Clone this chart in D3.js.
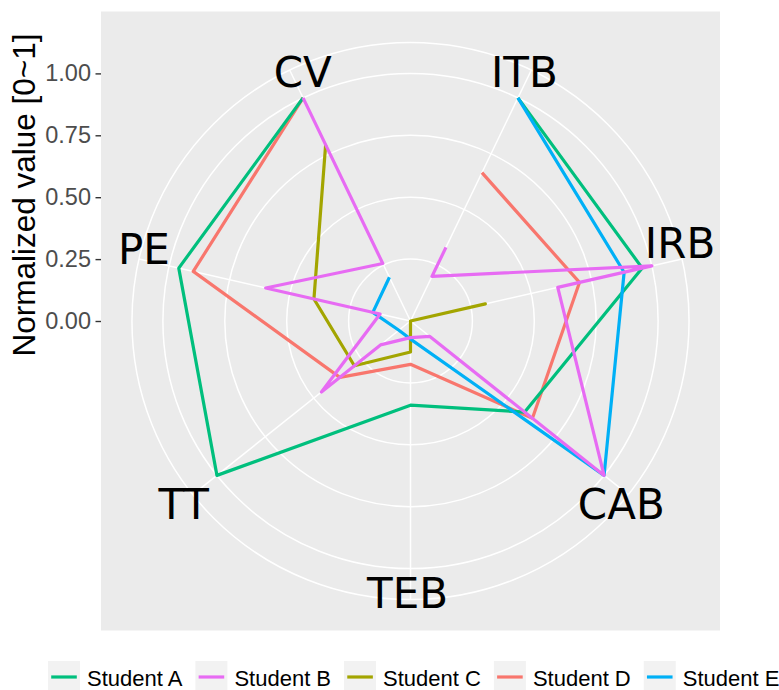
<!DOCTYPE html>
<html><head><meta charset="utf-8">
<script src="https://cdn.jsdelivr.net/npm/d3@7"></script>
<style>body{margin:0;background:#fff} svg{display:block}</style>
</head><body><svg id="c" width="779" height="690"></svg>
<script>
// ---------- data ----------
const categories = ["ITB","IRB","CAB","TEB","TT","PE","CV"];
const students = ["Student A","Student B","Student C","Student D","Student E"];
const studentA = [1.00, 0.96, 0.59, 0.34, 1.00, 0.96, 1.00];
// Student B has two readings per axis, kept in path order
const studentBCats = ["ITB","ITB","IRB","IRB","CAB","CAB","TEB","TT","TT","PE","PE","CV","CV"];
const studentBVals = [0.33, 0.20, 1.00, 0.61, 1.00, 0.10, 0.067, 0.155, 0.46, 0.126, 0.60, 0.258, 1.00];
const studentC = [0.00, 0.31, 0.00, 0.125, 0.29, 0.40, 0.79];
const studentD = [0.665, 0.70, 0.63, 0.175, 0.365, 0.90, 1.00];
const studentE = [1.00, 0.885, 1.00, 0.073, 0.06, 0.156, 0.196];
const rTicks = [0, 0.25, 0.5, 0.75, 1.0];
const rTickLabels = ["0.00","0.25","0.50","0.75","1.00"];
const seriesColors = ["#00BF7D","#E76BF3","#A3A500","#F8766D","#00B0F6"];
const drawOrder = ["Student D","Student C","Student A","Student E","Student B"];

// ---------- layout ----------
const W = 779, H = 690;
const D = 619, cx = 410.5, cy = 321;
const R = 0.4 * D, ROuter = 0.45 * D;
// label nudges (layout only)
const labelNudge = {ITB:[-7,2], IRB:[-2,-16], CAB:[-7,9], TEB:[-3,-7], TT:[-9,9], PE:[5,-10.5], CV:[13,2]};

const svg = d3.select("#c");
const color = d3.scaleOrdinal().domain(students).range(seriesColors);
const theta = d3.scaleBand().domain(categories).range([0, 2*Math.PI]).paddingInner(0).paddingOuter(0);
const ang = c => theta(c) + theta.bandwidth()/2;
const rScale = d3.scaleLinear().domain([0,1]).range([0, R]);

// panel
svg.append("rect").attr("x", cx - D/2).attr("y", cy - D/2).attr("width", D).attr("height", D).attr("fill", "#EBEBEB");

const g = svg.append("g").attr("transform", `translate(${cx},${cy})`);

// circles
const circleR = rTicks.filter(t => t > 0).map(t => rScale(t)).concat([ROuter]);
g.selectAll("circle.grid").data(circleR).join("circle")
  .attr("r", d => d).attr("fill", "none").attr("stroke", "#FFFFFF").attr("stroke-width", 1.5);

// spokes
const radial = d3.lineRadial().angle(d => d[0]).radius(d => d[1]);
g.selectAll("path.spoke").data(categories).join("path")
  .attr("d", c => radial([[ang(c), 0], [ang(c), ROuter]]))
  .attr("stroke", "#FFFFFF").attr("stroke-width", 1.5).attr("fill", "none");

// series
const seriesData = {
  "Student A": categories.map((c,i) => ({cat:c, v:studentA[i]})),
  "Student B": studentBCats.map((c,i) => ({cat:c, v:studentBVals[i]})),
  "Student C": categories.map((c,i) => ({cat:c, v:studentC[i]})),
  "Student D": categories.map((c,i) => ({cat:c, v:studentD[i]})),
  "Student E": categories.map((c,i) => ({cat:c, v:studentE[i]}))
};
const line = d3.lineRadial().angle(d => ang(d.cat)).radius(d => rScale(d.v));
g.selectAll("path.series").data(drawOrder).join("path")
  .attr("d", s => line(seriesData[s]))
  .attr("fill", "none").attr("stroke", s => color(s))
  .attr("stroke-width", 3.2).attr("stroke-linejoin", "round").attr("stroke-linecap", "butt");

// category labels
g.selectAll("text.cat").data(categories).join("text")
  .attr("x", c => ROuter * Math.sin(ang(c)) + labelNudge[c][0])
  .attr("y", c => -ROuter * Math.cos(ang(c)) + labelNudge[c][1])
  .attr("dy", "0.36em")
  .attr("text-anchor", "middle")
  .style("font-family", "'DejaVu Sans', sans-serif").style("font-size", "42px").attr("fill", "#000")
  .text(c => c);

// y axis
const yScale = d3.scaleLinear().domain([0,1]).range([cy, cy - R]);
const yAxis = d3.axisLeft(yScale).tickValues(rTicks).tickFormat((d,i) => rTickLabels[i]).tickSize(5.5).tickPadding(4.5);
const ax = svg.append("g").attr("transform", `translate(${cx - D/2},0)`).call(yAxis);
ax.select(".domain").remove();
ax.selectAll(".tick line").attr("stroke", "#333333").attr("stroke-width", 1.4);
ax.selectAll(".tick text").attr("fill", "#4D4D4D")
  .style("font-family", "'Liberation Sans', Arial, sans-serif").style("font-size", "23.5px");

// y title
svg.append("text").attr("transform", "translate(35,195) rotate(-90)")
  .attr("text-anchor", "middle")
  .style("font-family", "'Liberation Sans', Arial, sans-serif").style("font-size", "31.5px").attr("fill", "#000")
  .text("Normalized value [0~1]");

// legend
const leg = svg.append("g");
let lx = 48;
const keyS = 32, keyY = 661;
students.forEach(s => {
  const it = leg.append("g").attr("transform", `translate(${lx},0)`);
  it.append("rect").attr("x", 0).attr("y", keyY).attr("width", keyS).attr("height", keyS).attr("fill", "#F2F2F2");
  it.append("line").attr("x1", keyS*0.1).attr("x2", keyS*0.9).attr("y1", keyY + keyS/2).attr("y2", keyY + keyS/2)
    .attr("stroke", color(s)).attr("stroke-width", 3.2);
  const t = it.append("text").attr("x", keyS + 7).attr("y", 686)
    .style("font-family", "'Liberation Sans', Arial, sans-serif").style("font-size", "22px").attr("fill", "#000").text(s);
  lx += keyS + 7 + t.node().getComputedTextLength() + 13;
});
</script></body></html>
